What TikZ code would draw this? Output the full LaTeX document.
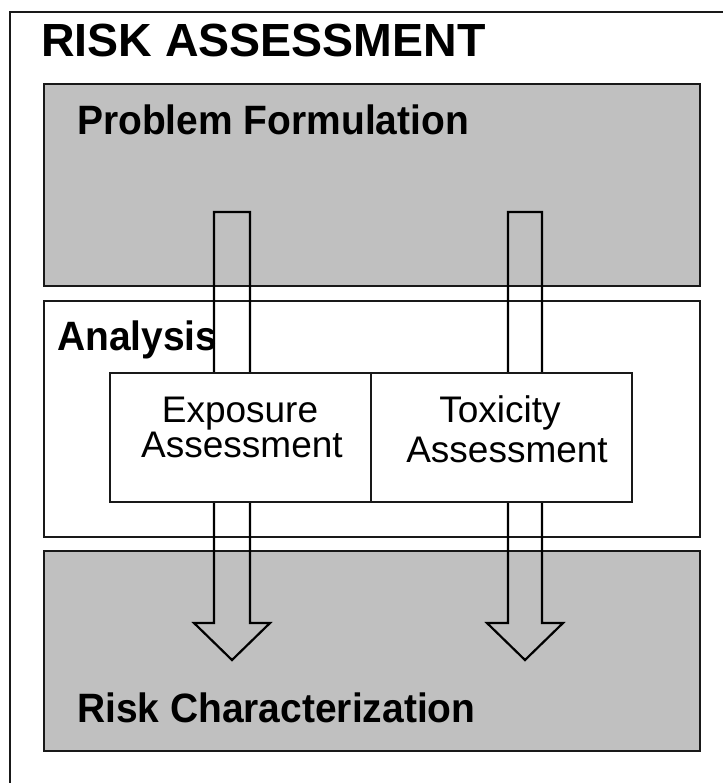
\documentclass[tikz,border=0pt]{standalone}
\usepackage{fontspec}
\setmainfont{Liberation Sans}
\newfontfamily\condfont[FakeStretch=0.95]{Liberation Sans}
\definecolor{boxgray}{RGB}{192,192,192}
\definecolor{edge}{RGB}{25,25,25}
\begin{document}
\begin{tikzpicture}[x=1pt,y=-1pt,
  box/.style={draw=edge, line width=2pt, rectangle, inner sep=0pt, outer sep=0pt, anchor=north west},
  graybox/.style={box, fill=boxgray},
  whitebox/.style={box, fill=white},
  frameline/.style={draw=edge, line width=2pt},
  titletext/.style={font=\fontsize{46.5}{48}\selectfont\bfseries, anchor=base west, inner sep=0pt},
  hdr/.style={font=\condfont\fontsize{41}{43}\selectfont\bfseries, anchor=base west, inner sep=0pt},
  body/.style={font=\fontsize{37}{37}\selectfont, anchor=base, inner sep=0pt},
  blockarrow/.style={draw=black, line width=2.2pt, line join=miter}]
\useasboundingbox (0,0) rectangle (723,783);
\fill[white] (0,0) rectangle (723,783);
% outer frame (cut off at right and bottom)
\draw[frameline] (10,783) -- (10,12) -- (723,12);
\node[titletext] (title) at (41,57) {RISK ASSESSMENT};
% stage boxes
\node[graybox, minimum width=656pt, minimum height=202pt] (pf) at (44,84) {};
\node[whitebox, minimum width=656pt, minimum height=236pt] (an) at (44,301) {};
\node[graybox, minimum width=656pt, minimum height=200pt] (rc) at (44,551) {};
\node[hdr] (pftext) at (77,135) {Problem Formulation};
\node[hdr] (antext) at (57,350) {Analysis};
\node[hdr] (rctext) at (77,722) {Risk Characterization};
% block arrows
\coordinate (a1) at (232,212);
\coordinate (a2) at (525,212);
\draw[blockarrow] (a1) ++(-18,0) -- ++(0,411) -- ++(-20,0) -- ++(38,37) -- ++(38,-37) -- ++(-20,0) -- ++(0,-411) -- cycle;
\draw[blockarrow] (a2) ++(-17,0) -- ++(0,411) -- ++(-21,0) -- ++(38,37) -- ++(38,-37) -- ++(-21,0) -- ++(0,-411) -- cycle;
% assessment boxes
\node[whitebox, minimum width=261pt, minimum height=129pt] (ex) at (110,373) {};
\node[whitebox, minimum width=261pt, minimum height=129pt] (tx) at (371,373) {};
\node[body] (ex1) at (240,422) {Exposure};
\node[body] (ex2) at (242,457) {Assessment};
\node[body] (tx1) at (500,422) {Toxicity};
\node[body] (tx2) at (507,462) {Assessment};
\end{tikzpicture}
\end{document}
